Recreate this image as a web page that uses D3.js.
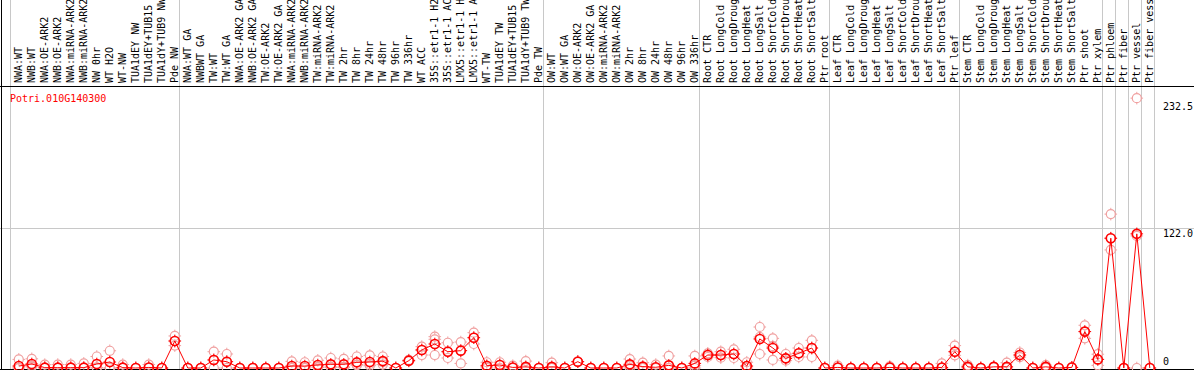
<!DOCTYPE html>
<html><head><meta charset="utf-8">
<script src="https://cdn.jsdelivr.net/npm/d3@7"></script>
<style>html,body{margin:0;padding:0;background:#fff;overflow:hidden}</style>
</head><body>
<svg id="chart" width="1194" height="370"></svg>
<script>
const categories = [
"NWA:WT","NWB:WT","NWA:OE-ARK2","NWB:OE-ARK2","NWA:miRNA-ARK2","NWB:miRNA-ARK2","NW 0hr","WT H2O","WT-NW","TUA1dEY NW","TUA1dEY+TUB15 NW","TUA1dY+TUB9 NW","Pde NW",
"NWA:WT GA","NWBWT GA","TW:WT","TW:WT GA","NWA:OE-ARK2 GA","NWB:OE-ARK2 GA","TW:OE-ARK2","TW:OE-ARK2 GA","NWA:miRNA-ARK2","NWB:miRNA-ARK2","TW:miRNA-ARK2","TW:miRNA-ARK2","TW 2hr","TW 8hr","TW 24hr","TW 48hr","TW 96hr","TW 336hr","WT ACC","35S::etr1-1 H2O","35S::etr1-1 ACC","LMX5::etr1-1 H2O","LMX5::etr1-1 ACC","WT-TW","TUA1dEY TW","TUA1dEY+TUB15 TW","TUA1dY+TUB9 TW","Pde TW",
"OW:WT","OW:WT GA","OW:OE-ARK2","OW:OE-ARK2 GA","OW:miRNA-ARK2","OW:miRNA-ARK2","OW 2hr","OW 8hr","OW 24hr","OW 48hr","OW 96hr","OW 336hr",
"Root CTR","Root LongCold","Root LongDrought","Root LongHeat","Root LongSalt","Root ShortCold","Root ShortDrought","Root ShortHeat","Root ShortSalt","Ptr root",
"Leaf CTR","Leaf LongCold","Leaf LongDrought","Leaf LongHeat","Leaf LongSalt","Leaf ShortCold","Leaf ShortDrought","Leaf ShortHeat","Leaf ShortSalt","Ptr leaf",
"Stem CTR","Stem LongCold","Stem LongDrought","Stem LongHeat","Stem LongSalt","Stem ShortCold","Stem ShortDrought","Stem ShortHeat","Stem ShortSalt","Ptr shoot","Ptr xylem",
"Ptr phloem","Ptr fiber","Ptr vessel","Ptr fiber vessel"];

// mean expression per sample (red line)
const meanValues = [
1.7,3.5,0.3,0.3,0.3,0.3,3.5,5.2,0.3,0,0.5,0,23.5,
0,0,7,5.5,0,0,0,0,1.7,1.7,2.6,3.2,3.2,4.9,5.2,6,0,6.4,15.7,20.9,14.2,15.1,26.4,2,2.6,0.5,1,0,1,
0,5.5,0,0,0,3.2,1.2,0.6,2.3,0,4,
11.3,11.3,12.2,1.7,25.3,17.4,8.4,12.8,17.4,0,
0.5,0,0,0,0.5,0,0,0,0.5,14.2,
1,0,1,1,11.3,0,1,0,0.5,31.7,7.5,
113,0,116.8,0];
// replicate values (pink circles)
const repHigh = [
7.5,8,2.9,3,3,4,10,15,3,0,3,0,27.9,
0,0,14.2,12.2,0,0,0,0,5.8,5,6.7,8.7,8,10,11,10,0,7,18.6,27.3,22,22.6,30.8,5,5,2,6,0,4.6,
0,5.5,0,0,0,7.8,4.6,3,10.5,0,10.5,
12.8,14.2,16.3,5,35.7,25.8,12.2,17.4,24.1,0,
2,0,0,0,1.5,0,0,0,4,19.5,
2.5,0,1,4.6,13.5,0,2.5,0,0.5,37.2,12,
134,0,235,0];
const repLow = [
0,1,0,0,0,0,0.5,0,0,0,0,0,19.5,
0,0,0,0,0,0,0,0,0,0,0.5,0.5,0.5,2.5,3.5,3,0,6,11.3,11.3,8.7,4,20.9,0,0,0,0,0,0,
0,5.5,0,0,0,0,0,0,0,0,0,
9.6,9,8.7,0,12.2,7,6.4,9.6,9.6,0,
0,0,0,0,0,0,0,0,0,11,
0,0,1,0,9.5,0,0,0,0.5,25.8,2.3,
102.8,0,0,0];
const repMid = [
0,2,0,0,0,0,0,0,0,0,0,0,23.5,
0,0,7,5.5,0,0,0,0,0,0,1,1,1,3,2,5,0,6.4,15.7,25,14.2,15.1,26.4,1,2.6,0,0,0,0,
0,5.5,0,0,0,2,0,0,0,0,2,
11.3,11.3,12.2,1.7,27,19,8.4,12.8,17.4,0,
0,0,0,0,0,0,0,0,0,14.2,
1,0,1,1,11.3,0,1,0,0.5,31.7,7.5,
113,0,115,0];
const groupBreaks = [0,13,41,53,63,73,84,85,86,87,88];
const tickValues = [0,122.0,232.5];
const tickLabels = ["0","122.0","232.5"];
const geneName = "Potri.010G140300";

const W = 1194, H = 370;
const svg = d3.select("#chart");
const n = categories.length;
const x = d3.scaleLinear().domain([0, n]).range([11, 11 + 13 * n]);
const y = d3.scaleLinear().domain([0, 232.5]).range([368, 101]);
const px = i => x(i + 0.6);
const FONT = "'DejaVu Sans Mono', monospace";

// group separator lines
svg.append("g").selectAll("line").data(groupBreaks).join("line")
  .attr("x1", d => Math.round(x(d)) - 0.5).attr("x2", d => Math.round(x(d)) - 0.5)
  .attr("y1", 0).attr("y2", H)
  .attr("stroke", "#c8c8c8").attr("stroke-width", 1);

// gridline at 122
svg.append("g").selectAll("line").data(tickValues.filter(v => v > 0 && v < 232.5)).join("line")
  .attr("x1", 0).attr("x2", W)
  .attr("y1", d => Math.round(y(d)) + 0.5).attr("y2", d => Math.round(y(d)) + 0.5)
  .attr("stroke", "#c8c8c8");

// frame lines
svg.append("line").attr("x1", 0).attr("x2", W).attr("y1", 86.5).attr("y2", 86.5).attr("stroke", "#000");
svg.append("line").attr("x1", 0).attr("x2", W).attr("y1", 369.5).attr("y2", 369.5).attr("stroke", "#000");
svg.append("line").attr("x1", 1.5).attr("x2", 1.5).attr("y1", 0).attr("y2", H).attr("stroke", "#000");

// category labels
svg.append("g").selectAll("text").data(categories).join("text")
  .attr("transform", (d, i) => `translate(${x(i) + 10.5},83) rotate(-90)`)
  .attr("font-family", FONT).attr("font-size", 10).attr("fill", "#000")
  .text(d => d);

// gene name
svg.append("text").attr("x", 10).attr("y", 101.5)
  .attr("font-family", FONT).attr("font-size", 10).attr("fill", "#ff0000").text(geneName);

// tick labels
svg.append("g").selectAll("text").data(tickValues).join("text")
  .attr("x", 1163)
  .attr("y", (d, i) => i === 0 ? y(d) - 3 : y(d) + 9)
  .attr("font-family", FONT).attr("font-size", 10).attr("fill", "#000")
  .text((d, i) => tickLabels[i]);

function marker(g, cx, cy, color, w) {
  const r = 4.5;
  g.append("circle").attr("cx", cx).attr("cy", cy).attr("r", r)
    .attr("fill", "none").attr("stroke", color).attr("stroke-width", w);
  [[0,-1],[0,1],[-1,0],[1,0]].forEach(([dx,dy]) => {
    g.append("line").attr("x1", cx + dx*r).attr("y1", cy + dy*r)
      .attr("x2", cx + dx*(r+1.8)).attr("y2", cy + dy*(r+1.8))
      .attr("stroke", color).attr("stroke-width", 1);
  });
}

// replicates
const gr = svg.append("g");
[repHigh, repLow, repMid].forEach(arr => arr.forEach((v, i) => marker(gr, px(i), y(v), "#f0a0a0", 1.2)));

// mean line
svg.append("path").datum(meanValues)
  .attr("d", d3.line().x((d, i) => px(i)).y(d => y(d)))
  .attr("fill", "none").attr("stroke", "#ff0000").attr("stroke-width", 1);

const gm = svg.append("g");
meanValues.forEach((v, i) => marker(gm, px(i), y(v), "#ff0000", 1.6));
</script>
</body></html>
